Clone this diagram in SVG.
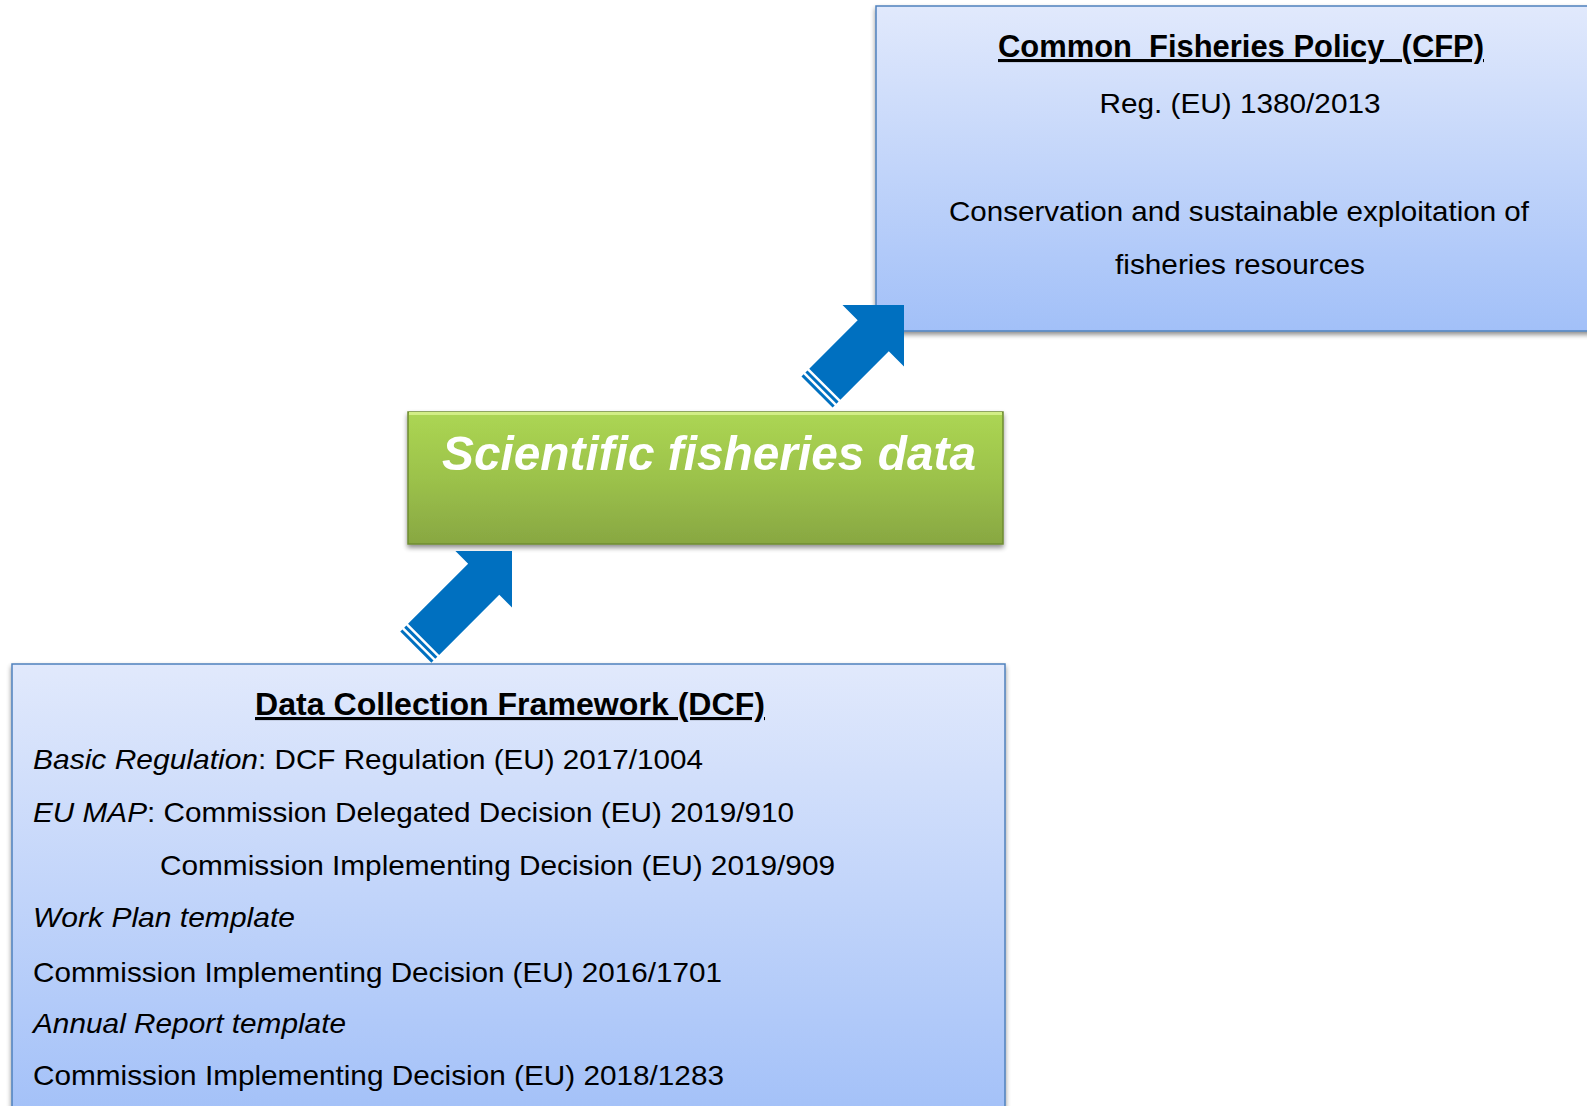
<svg xmlns="http://www.w3.org/2000/svg" width="1587" height="1106" viewBox="0 0 1587 1106">
<defs>
<linearGradient id="blueGrad" x1="0" y1="0" x2="0" y2="1">
<stop offset="0" stop-color="#e1e9fc"/>
<stop offset="1" stop-color="#a2c0f8"/>
</linearGradient>
<linearGradient id="greenGrad" x1="0" y1="0" x2="0" y2="1">
<stop offset="0" stop-color="#acd653"/>
<stop offset="0.5" stop-color="#9cc24b"/>
<stop offset="1" stop-color="#88a742"/>
</linearGradient>
<filter id="shadow" x="-5%" y="-5%" width="110%" height="120%">
<feGaussianBlur in="SourceAlpha" stdDeviation="2.5"/>
<feOffset dx="0" dy="3" result="b"/>
<feComponentTransfer><feFuncA type="linear" slope="0.45"/></feComponentTransfer>
<feMerge><feMergeNode/><feMergeNode in="SourceGraphic"/></feMerge>
</filter>
</defs>
<style>
.box { fill: url(#blueGrad); stroke: #4f81bd; stroke-width: 1.5; }
.t { font-family: "Liberation Sans", Arial, sans-serif; fill: #000; }
.title { font-weight: bold; font-size: 31px; text-decoration: underline; }
.body { font-size: 28px; }
.it { font-style: italic; }
.arrow { fill: #0070c0; }
</style>
<rect width="1587" height="1106" fill="#ffffff"/>

<g id="cfp">
<rect class="box" x="876" y="6" width="720" height="325" filter="url(#shadow)"/>
<text class="t title" xml:space="preserve" x="1241" y="57" text-anchor="middle" textLength="486" lengthAdjust="spacingAndGlyphs">Common  Fisheries Policy  (CFP)</text>
<text class="t body" x="1240" y="113" text-anchor="middle" textLength="281" lengthAdjust="spacingAndGlyphs">Reg. (EU) 1380/2013</text>
<text class="t body" x="1239" y="221" text-anchor="middle" textLength="580" lengthAdjust="spacingAndGlyphs">Conservation and sustainable exploitation of</text>
<text class="t body" x="1240" y="274" text-anchor="middle" textLength="250" lengthAdjust="spacingAndGlyphs">fisheries resources</text>
</g>

<g id="sfd">
<rect x="408" y="412" width="595" height="132" fill="url(#greenGrad)" stroke="#6f8c32" stroke-width="1.5" filter="url(#shadow)"/>
<line x1="409" y1="413.5" x2="1002" y2="413.5" stroke="#d2ee85" stroke-width="3"/>
<text x="442" y="470" font-family="Liberation Sans, Arial, sans-serif" font-weight="bold" font-style="italic" font-size="49" fill="#ffffff" textLength="534" lengthAdjust="spacingAndGlyphs">Scientific fisheries data</text>
</g>

<g id="dcf">
<rect class="box" x="12" y="664" width="993" height="460" filter="url(#shadow)"/>
<text class="t title" x="510" y="715" text-anchor="middle" textLength="510" lengthAdjust="spacingAndGlyphs">Data Collection Framework (DCF)</text>
<text class="t body" y="769"><tspan class="it" x="33" textLength="225" lengthAdjust="spacingAndGlyphs">Basic Regulation</tspan><tspan x="258" textLength="445" lengthAdjust="spacingAndGlyphs">: DCF Regulation (EU) 2017/1004</tspan></text>
<text class="t body" y="822"><tspan class="it" x="33" textLength="114" lengthAdjust="spacingAndGlyphs">EU MAP</tspan><tspan x="147" textLength="647" lengthAdjust="spacingAndGlyphs">: Commission Delegated Decision (EU) 2019/910</tspan></text>
<text class="t body" x="160" y="875" textLength="675" lengthAdjust="spacingAndGlyphs">Commission Implementing Decision (EU) 2019/909</text>
<text class="t body it" x="33" y="927" textLength="262" lengthAdjust="spacingAndGlyphs">Work Plan template</text>
<text class="t body" x="33" y="982" textLength="689" lengthAdjust="spacingAndGlyphs">Commission Implementing Decision (EU) 2016/1701</text>
<text class="t body it" x="33" y="1033" textLength="313" lengthAdjust="spacingAndGlyphs">Annual Report template</text>
<text class="t body" x="33" y="1085" textLength="691" lengthAdjust="spacingAndGlyphs">Commission Implementing Decision (EU) 2018/1283</text>
</g>

<g id="connectors">
<g transform="translate(904,305) rotate(-45)">
<path class="arrow" d="M0,0 L-43.5,-43.5 L-43.5,-22 L-112,-22 L-112,22 L-43.5,22 L-43.5,43.5 Z"/>
<rect class="arrow" x="-117.5" y="-22" width="3" height="44"/>
<rect class="arrow" x="-123" y="-22" width="3" height="44"/>
</g>
<g transform="translate(512,551) rotate(-45)">
<path class="arrow" d="M0,0 L-40,-40 L-40,-22 L-125,-22 L-125,22 L-40,22 L-40,40 Z"/>
<rect class="arrow" x="-130.5" y="-22" width="3" height="44"/>
<rect class="arrow" x="-136" y="-22" width="3" height="44"/>
</g>
</g>
</svg>
